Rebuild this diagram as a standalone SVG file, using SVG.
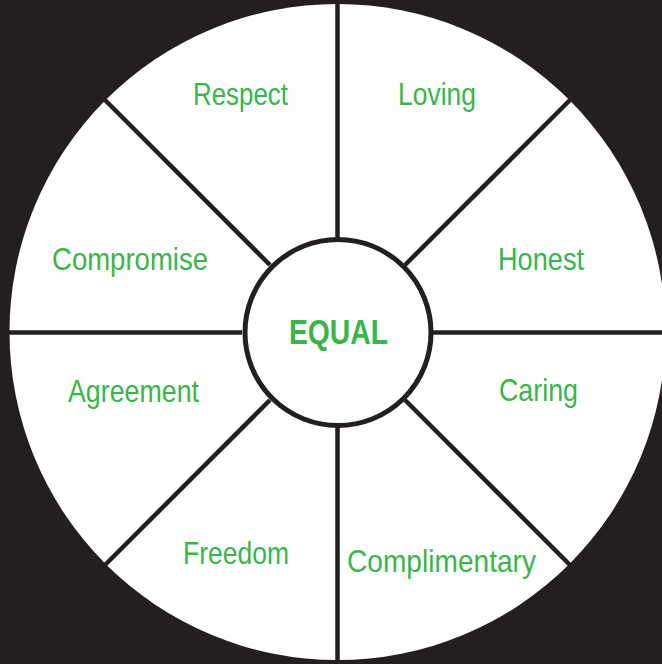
<svg xmlns="http://www.w3.org/2000/svg" width="662" height="664" viewBox="0 0 662 664">
  <style>
    .bg { fill: #231f20; }
    .disc { fill: #ffffff; }
    .hub { fill: #ffffff; stroke: #231f20; stroke-width: 5; }
    .spoke { stroke: #231f20; stroke-width: 4.5; stroke-linecap: butt; }
    .lbl { fill: #39b54a; font-family: "Liberation Sans Narrow", "Arial Narrow", "Liberation Sans", Arial, sans-serif; font-size: 32px; }
    .core { fill: #39b54a; font-family: "Liberation Sans Narrow", "Arial Narrow", "Liberation Sans", Arial, sans-serif; font-size: 35px; font-weight: bold; }
  </style>

  <rect class="bg" x="0" y="0" width="662" height="664"/>
  <circle class="disc" cx="337.5" cy="332" r="328"/>

  <!-- spokes between hub and rim -->
  <g id="connectors">
    <line class="spoke" x1="337.5" y1="237" x2="337.5" y2="0"/>
    <line class="spoke" x1="337.5" y1="427" x2="337.5" y2="664"/>
    <line class="spoke" x1="242" y1="332.5" x2="0" y2="332.5"/>
    <line class="spoke" x1="433" y1="332.5" x2="662" y2="332.5"/>
    <line class="spoke" x1="270" y1="265" x2="104" y2="99"/>
    <line class="spoke" x1="405" y1="265" x2="571" y2="99"/>
    <line class="spoke" x1="270" y1="400" x2="104" y2="566"/>
    <line class="spoke" x1="405" y1="400" x2="571" y2="566"/>
  </g>

  <g id="hub">
    <circle class="hub" cx="338" cy="332.5" r="93"/>
    <text class="core" x="289" y="344" textLength="99" lengthAdjust="spacingAndGlyphs">EQUAL</text>
  </g>

  <g id="respect"><text class="lbl" x="193" y="105" textLength="95" lengthAdjust="spacingAndGlyphs">Respect</text></g>
  <g id="loving"><text class="lbl" x="398" y="105" textLength="78" lengthAdjust="spacingAndGlyphs">Loving</text></g>
  <g id="compromise"><text class="lbl" x="52" y="270" textLength="156" lengthAdjust="spacingAndGlyphs">Compromise</text></g>
  <g id="honest"><text class="lbl" x="498" y="270" textLength="86" lengthAdjust="spacingAndGlyphs">Honest</text></g>
  <g id="agreement"><text class="lbl" x="68" y="402" textLength="131" lengthAdjust="spacingAndGlyphs">Agreement</text></g>
  <g id="caring"><text class="lbl" x="499" y="401" textLength="79" lengthAdjust="spacingAndGlyphs">Caring</text></g>
  <g id="freedom"><text class="lbl" x="183" y="564" textLength="106" lengthAdjust="spacingAndGlyphs">Freedom</text></g>
  <g id="complimentary"><text class="lbl" x="347" y="572" textLength="189" lengthAdjust="spacingAndGlyphs">Complimentary</text></g>
</svg>
